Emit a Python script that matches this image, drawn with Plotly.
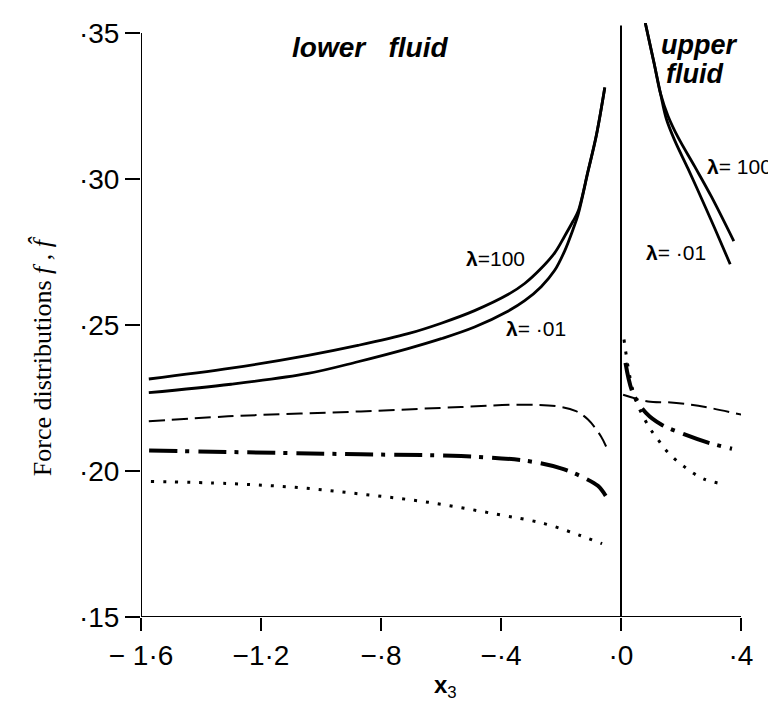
import plotly.graph_objects as go

# ---- data ----
# lower fluid, lambda = 100 (solid)
low_l100_x = [-1.574, -1.30, -1.043, -0.877, -0.710, -0.599, -0.488, -0.377, -0.321, -0.266, -0.221, -0.188, -0.160, -0.143, -0.110, -0.082, -0.054]
low_l100_y = [0.2315, 0.2352, 0.2396, 0.2430, 0.2470, 0.2506, 0.2549, 0.2604, 0.2642, 0.2694, 0.2747, 0.2804, 0.2855, 0.2889, 0.3027, 0.3151, 0.3313]
# lower fluid, lambda = .01 (solid)
low_l01_x = [-1.574, -1.30, -1.043, -0.877, -0.710, -0.599, -0.488, -0.377, -0.321, -0.266, -0.221, -0.188, -0.160, -0.143, -0.110, -0.082, -0.054]
low_l01_y = [0.2268, 0.2297, 0.2334, 0.2374, 0.2419, 0.2453, 0.2493, 0.2547, 0.2583, 0.2631, 0.2687, 0.2753, 0.2827, 0.2878, 0.3025, 0.3149, 0.3313]
# upper fluid, lambda = 100
up_l100_x = [0.081, 0.110, 0.132, 0.157, 0.190, 0.246, 0.301, 0.376]
up_l100_y = [0.3534, 0.3398, 0.3291, 0.3215, 0.3143, 0.3042, 0.2940, 0.2787]
# upper fluid, lambda = .01
up_l01_x = [0.081, 0.110, 0.132, 0.151, 0.179, 0.223, 0.268, 0.312, 0.364]
up_l01_y = [0.3534, 0.3398, 0.3291, 0.3206, 0.3132, 0.3036, 0.2934, 0.2832, 0.2708]

# dashed
dash_low_x = [-1.574, -1.31, -0.867, -0.533, -0.333, -0.21, -0.15, -0.11, -0.067, -0.043]
dash_low_y = [0.2170, 0.2187, 0.2204, 0.2219, 0.2227, 0.2221, 0.2205, 0.2176, 0.2119, 0.2068]
dash_up_x = [0.007, 0.09, 0.157, 0.234, 0.301, 0.401]
dash_up_y = [0.2261, 0.2238, 0.2235, 0.2227, 0.2215, 0.2193]

# dash-dot
dd_low_x = [-1.573, -0.867, -0.533, -0.31, -0.2, -0.12, -0.077, -0.051]
dd_low_y = [0.2070, 0.2057, 0.2051, 0.2034, 0.2009, 0.1975, 0.1949, 0.1915]
dd_up_x = [0.015, 0.04, 0.084, 0.134, 0.212, 0.29, 0.37]
dd_up_y = [0.2370, 0.2266, 0.2198, 0.2159, 0.2125, 0.2097, 0.2076]

# dotted
dot_low_x = [-1.567, -1.31, -1.087, -0.867, -0.643, -0.42, -0.253, -0.133, -0.063]
dot_low_y = [0.1964, 0.1957, 0.1944, 0.1921, 0.1893, 0.1853, 0.1819, 0.1778, 0.1751]
dot_up_x = [0.01, 0.03, 0.05, 0.081, 0.099, 0.123, 0.157, 0.212, 0.273, 0.34]
dot_up_y = [0.2450, 0.2320, 0.2240, 0.2173, 0.2142, 0.2108, 0.2063, 0.2014, 0.1974, 0.1955]

x_tickvals = [-1.6, -1.2, -0.8, -0.4, 0.0, 0.4]
x_ticktext = ["\u2212 1\u00b76", "\u22121\u00b72", "\u2212\u00b78", "\u2212\u00b74", "\u00b70", "\u00b74"]
y_tickvals = [0.15, 0.20, 0.25, 0.30, 0.35]
y_ticktext = ["\u00b715", "\u00b720", "\u00b725", "\u00b730", "\u00b735"]

fig = go.Figure()

def add(x, y, width, dash, smooth=1.0):
    fig.add_trace(go.Scatter(x=x, y=y, mode="lines",
                             line=dict(color="black", width=width, dash=dash,
                                       shape="spline", smoothing=smooth),
                             showlegend=False, hoverinfo="skip"))

add(low_l100_x, low_l100_y, 2.8, "solid")
add(low_l01_x, low_l01_y, 2.8, "solid")
add(up_l100_x, up_l100_y, 2.8, "solid")
add(up_l01_x, up_l01_y, 2.8, "solid")
add(dash_low_x, dash_low_y, 2, "16px,7px")
add(dash_up_x, dash_up_y, 2, "16px,7px")
add(dd_low_x, dd_low_y, 4, "28px,8px,4px,9px")
add(dd_up_x, dd_up_y, 4, "28px,8px,4px,9px")
add(dot_low_x, dot_low_y, 3, "3px,9px")
add(dot_up_x, dot_up_y, 3, "3px,9px")

# axis frame lines
line_style = dict(color="black", width=2)
fig.add_shape(type="line", x0=-1.6, x1=-1.6, y0=0.15, y1=0.35, xref="x", yref="y", line=line_style)
fig.add_shape(type="line", x0=-1.6, x1=0.4, y0=0.15, y1=0.15, xref="x", yref="y", line=line_style)
fig.add_shape(type="line", x0=0.0, x1=0.0, y0=0.15, y1=0.3525, xref="x", yref="y", line=line_style)

L, R, T, B = 133, 43, 10, 97
W, H = 776, 706
pw, ph = W - L - R, H - T - B

def px(xp):
    return (xp - L) / pw

def py(yp):
    return (H - B - yp) / ph

sans = "Liberation Sans, Arial, sans-serif"
serif = "Liberation Serif, Times New Roman, serif"

ann = [
    dict(text="<b><i>lower   fluid</i></b>", x=px(442), y=py(35), size=28, xa="right"),
    dict(text="<b><i>upper</i></b>", x=px(651), y=py(32), size=27, xa="left"),
    dict(text="<b><i>fluid</i></b>", x=px(656), y=py(61), size=27, xa="left"),
    dict(text="<b>\u03bb</b>=100", x=px(487), y=py(247), size=21, xa="center"),
    dict(text="<b>\u03bb</b>= \u00b701", x=px(528), y=py(318), size=21, xa="center"),
    dict(text="<b>\u03bb</b>= 100", x=px(697), y=py(155), size=21, xa="left"),
    dict(text="<b>\u03bb</b>= \u00b701", x=px(668), y=py(241), size=21, xa="center"),
]
for a in ann:
    fig.add_annotation(text=a["text"], x=a["x"], y=a["y"], xref="paper", yref="paper",
                       showarrow=False, xanchor=a["xa"], yanchor="middle",
                       font=dict(family=sans, size=a["size"], color="black"))

fig.add_annotation(text="<b>x</b><sub>3</sub>", x=px(437), y=py(679), xref="paper", yref="paper",
                   showarrow=False, xanchor="center", yanchor="middle",
                   font=dict(family=sans, size=24, color="black"))

fig.add_annotation(text="Force distributions <i>f</i> , <i>f\u0302</i>", x=px(34), y=py(346),
                   xref="paper", yref="paper", showarrow=False, textangle=-90,
                   xanchor="center", yanchor="middle",
                   font=dict(family=serif, size=26, color="black"))

fig.update_xaxes(range=[-1.6, 0.4], tickvals=x_tickvals, ticktext=x_ticktext,
                 ticks="outside", ticklen=13, tickwidth=2, tickcolor="black",
                 showgrid=False, zeroline=False, showline=False,
                 tickfont=dict(family=sans, size=28, color="black"))
fig.update_yaxes(range=[0.15, 0.15 + 0.2 * ph / 589], tickvals=y_tickvals, ticktext=y_ticktext,
                 ticks="outside", ticklen=15, tickwidth=2, tickcolor="black",
                 showgrid=False, zeroline=False, showline=False,
                 tickfont=dict(family=sans, size=28, color="black"))

fig.update_layout(width=W, height=H, margin=dict(l=L, r=R, t=T, b=B),
                  paper_bgcolor="white", plot_bgcolor="white")

fig.write_html("out.html")
